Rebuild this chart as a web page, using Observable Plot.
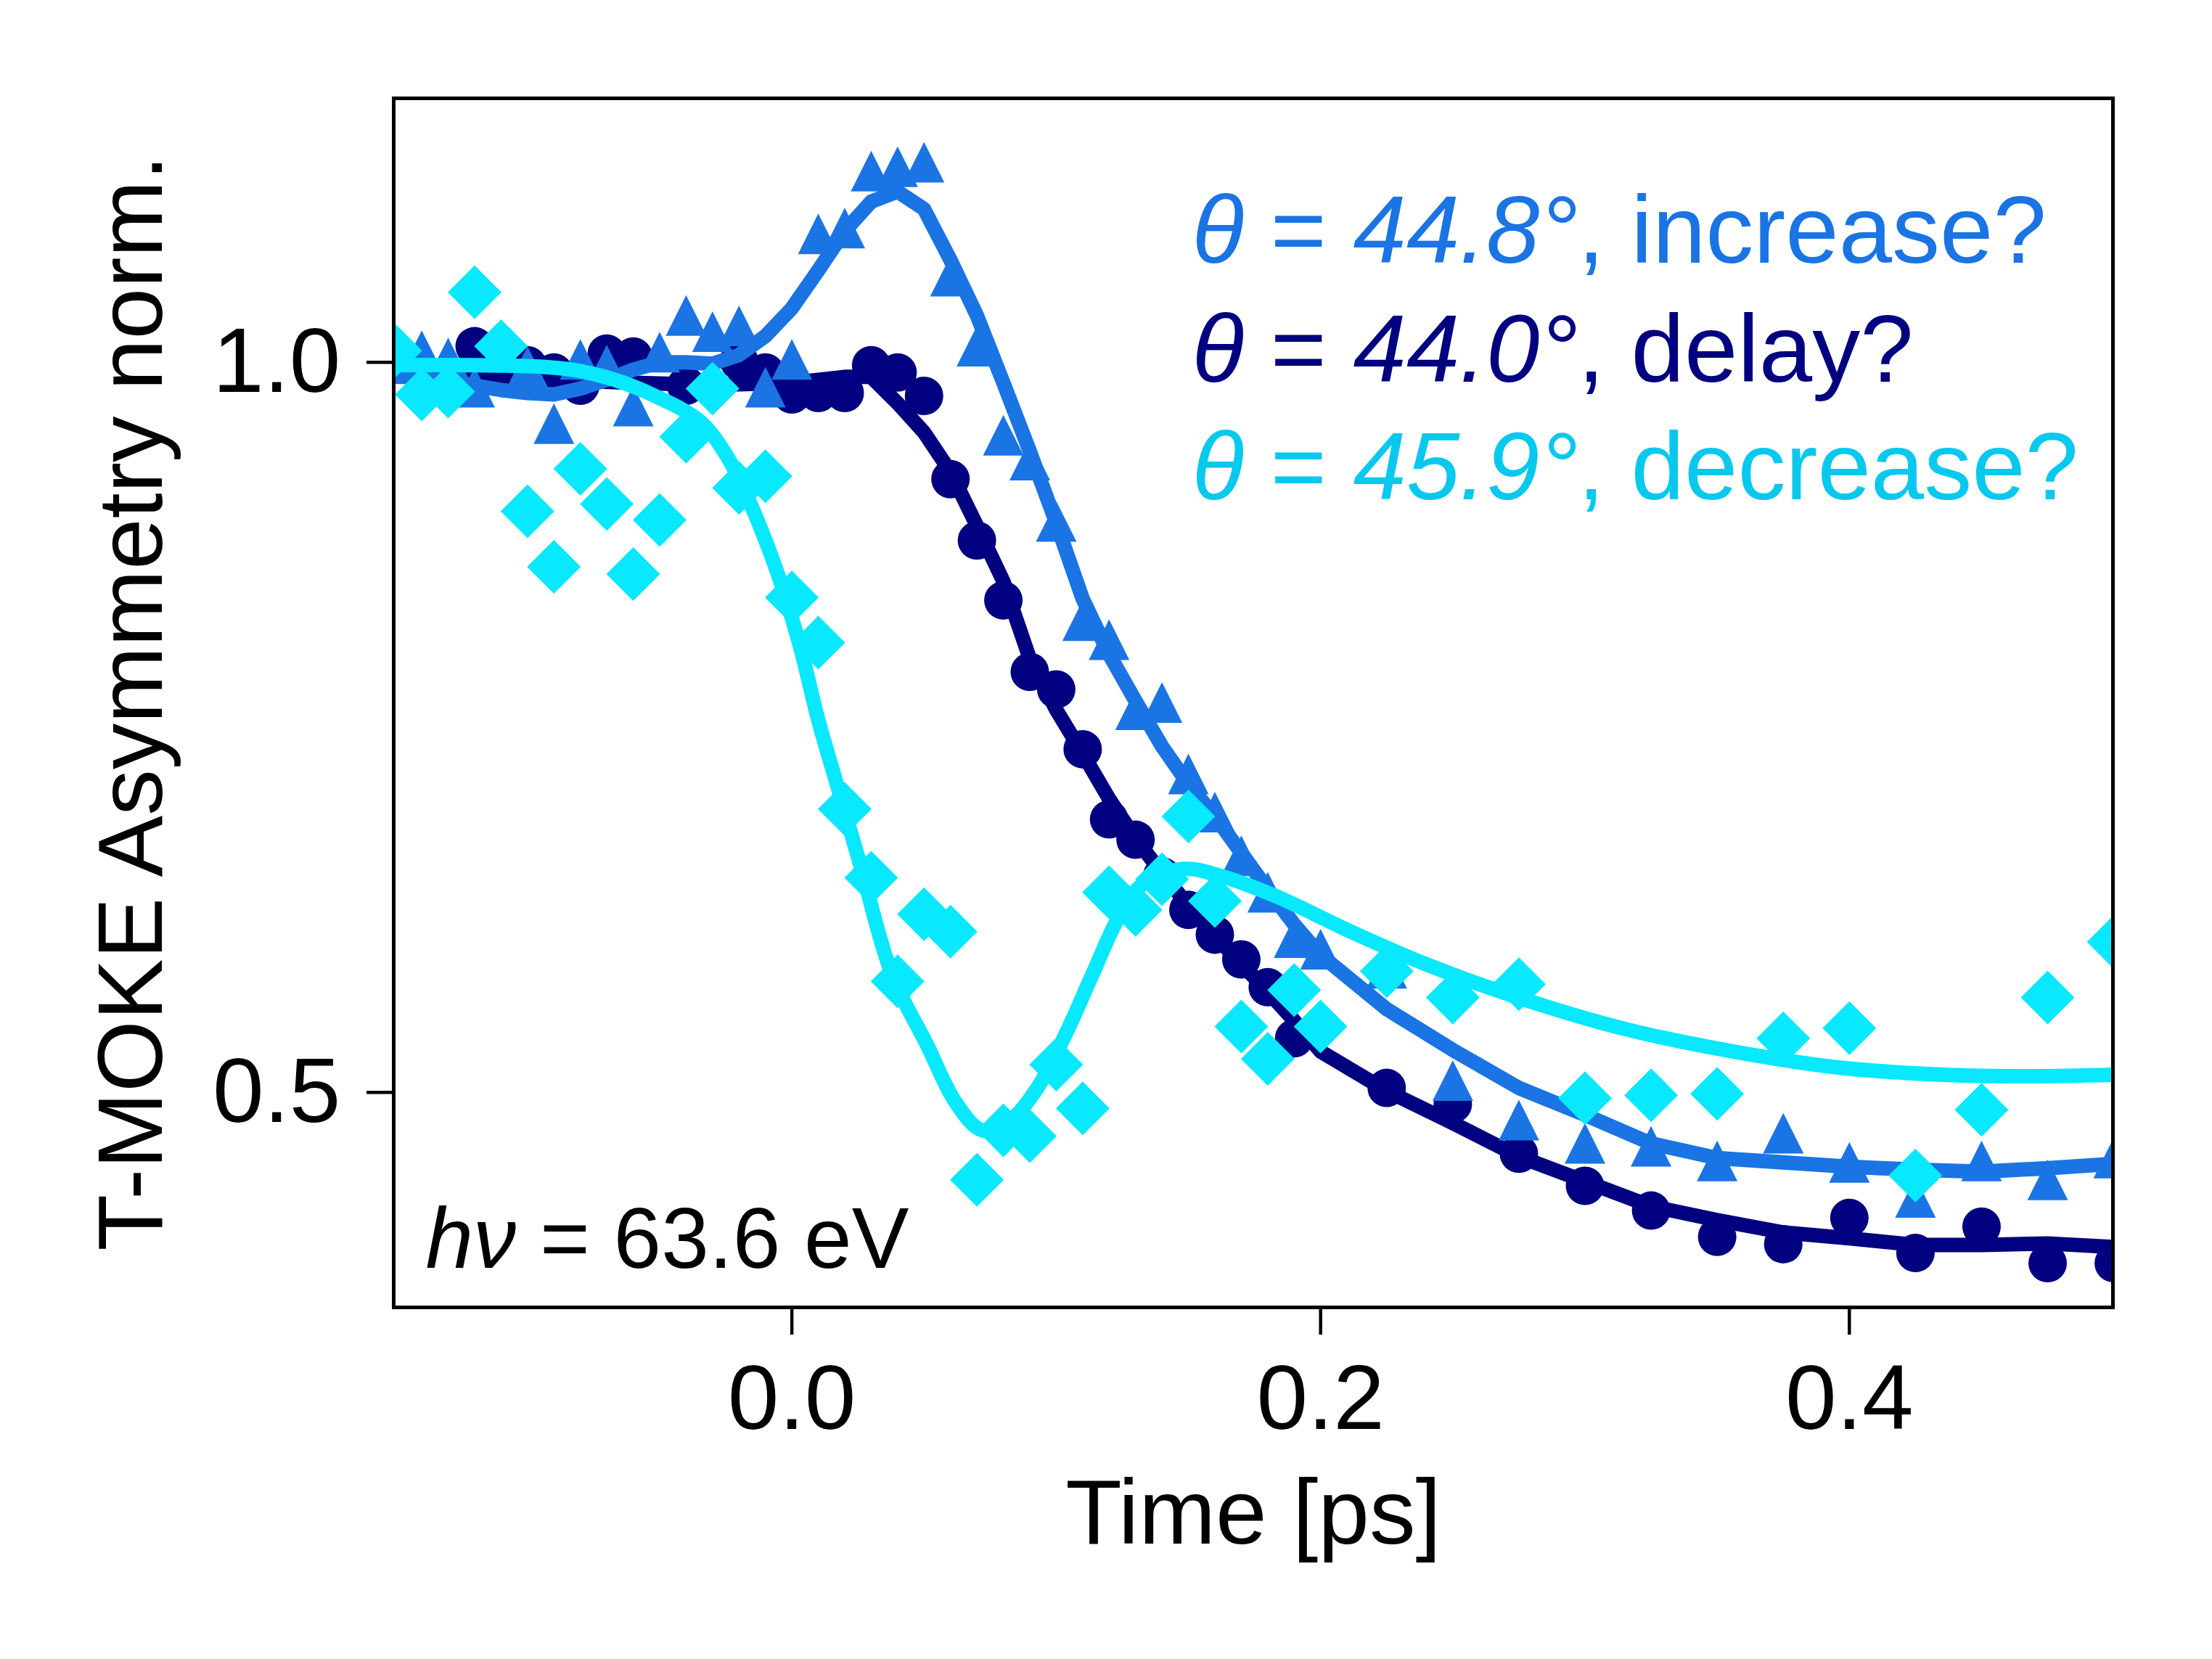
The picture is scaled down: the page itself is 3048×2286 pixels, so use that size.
<!DOCTYPE html>
<html><head><meta charset="utf-8">
<script src="https://cdn.jsdelivr.net/npm/d3@7"></script>
<script src="https://cdn.jsdelivr.net/npm/@observablehq/plot@0.6"></script>
<style>html,body{margin:0;padding:0;background:#fff;} #chart svg{display:block;}</style>
</head><body><div id="chart"></div>
<script>
// ---- data ----
const xTicks = [0.0, 0.2, 0.4];
const yTicks = [0.5, 1.0];
const xLabel = "Time [ps]";
const yLabel = "T-MOKE Asymmetry norm.";
const legendLabels = ["θ = 44.8°, increase?", "θ = 44.0°, delay?", "θ = 45.9°, decrease?"];
const annotation = "hν = 63.6 eV";

// θ = 44.0° (circles)
const navyT = [-0.12, -0.10, -0.09, -0.08, -0.07, -0.06, -0.04, -0.02, -0.01, 0.00, 0.01, 0.02, 0.03, 0.04, 0.05, 0.06, 0.07, 0.08, 0.09, 0.10, 0.11, 0.12, 0.13, 0.14, 0.15, 0.16, 0.17, 0.18, 0.19, 0.225, 0.25, 0.275, 0.30, 0.325, 0.35, 0.375, 0.40, 0.425, 0.45, 0.475, 0.50];
const navyA = [1.011, 0.998, 0.993, 0.984, 1.006, 1.004, 0.984, 1.001, 0.993, 0.978, 0.979, 0.979, 0.998, 0.993, 0.977, 0.920, 0.878, 0.837, 0.788, 0.776, 0.735, 0.687, 0.673, 0.648, 0.625, 0.608, 0.591, 0.572, 0.537, 0.503, 0.492, 0.458, 0.436, 0.419, 0.401, 0.396, 0.414, 0.390, 0.408, 0.383, 0.383];
const navyFitT = [-0.15, -0.12, -0.09, -0.06, -0.04, -0.02, 0.00, 0.01, 0.02, 0.03, 0.04, 0.05, 0.06, 0.07, 0.08, 0.09, 0.10, 0.11, 0.12, 0.13, 0.14, 0.15, 0.16, 0.17, 0.18, 0.19, 0.20, 0.225, 0.25, 0.275, 0.30, 0.325, 0.35, 0.375, 0.40, 0.425, 0.45, 0.475, 0.50];
const navyFitA = [0.992, 0.990, 0.988, 0.986, 0.985, 0.985, 0.986, 0.988, 0.990, 0.990, 0.972, 0.952, 0.925, 0.888, 0.850, 0.797, 0.762, 0.732, 0.701, 0.674, 0.650, 0.628, 0.607, 0.588, 0.569, 0.549, 0.528, 0.501, 0.479, 0.456, 0.439, 0.422, 0.4125, 0.404, 0.400, 0.3955, 0.3955, 0.3965, 0.394];

// θ = 44.8° (triangles)
const blueT = [-0.14, -0.13, -0.12, -0.10, -0.09, -0.08, -0.07, -0.06, -0.05, -0.04, -0.03, -0.02, -0.01, 0.00, 0.01, 0.02, 0.03, 0.04, 0.05, 0.06, 0.07, 0.08, 0.09, 0.10, 0.11, 0.12, 0.13, 0.14, 0.15, 0.16, 0.17, 0.18, 0.19, 0.20, 0.225, 0.25, 0.275, 0.30, 0.325, 0.35, 0.375, 0.40, 0.425, 0.45, 0.475, 0.50];
const blueA = [1.008, 1.003, 0.983, 0.997, 0.958, 1.002, 0.998, 0.970, 1.007, 1.032, 1.021, 1.025, 0.983, 1.002, 1.088, 1.092, 1.131, 1.134, 1.137, 1.059, 1.011, 0.950, 0.933, 0.891, 0.823, 0.810, 0.762, 0.767, 0.718, 0.692, 0.662, 0.637, 0.606, 0.598, 0.585, 0.508, 0.481, 0.465, 0.463, 0.453, 0.472, 0.452, 0.428, 0.453, 0.440, 0.455];
const blueFitT = [-0.15, -0.14, -0.13, -0.12, -0.11, -0.10, -0.09, -0.08, -0.07, -0.06, -0.05, -0.04, -0.03, -0.02, -0.01, 0.00, 0.01, 0.02, 0.03, 0.04, 0.05, 0.06, 0.07, 0.08, 0.09, 0.10, 0.11, 0.12, 0.13, 0.14, 0.15, 0.16, 0.17, 0.18, 0.19, 0.20, 0.225, 0.25, 0.275, 0.30, 0.325, 0.35, 0.375, 0.40, 0.425, 0.45, 0.475, 0.50];
const blueFitA = [0.990, 0.990, 0.988, 0.984, 0.981, 0.979, 0.978, 0.982, 0.988, 0.995, 1.000, 1.000, 0.999, 1.005, 1.018, 1.037, 1.063, 1.090, 1.110, 1.117, 1.105, 1.070, 1.032, 0.986, 0.939, 0.890, 0.838, 0.800, 0.768, 0.737, 0.711, 0.689, 0.664, 0.639, 0.615, 0.594, 0.557, 0.529, 0.503, 0.4845, 0.465, 0.455, 0.452, 0.449, 0.447, 0.4457, 0.448, 0.451];

// θ = 45.9° (diamonds)
const cyanT = [-0.15, -0.14, -0.13, -0.12, -0.11, -0.10, -0.09, -0.08, -0.07, -0.06, -0.05, -0.04, -0.03, -0.02, -0.01, 0.00, 0.01, 0.02, 0.03, 0.04, 0.05, 0.06, 0.07, 0.08, 0.09, 0.10, 0.11, 0.12, 0.13, 0.14, 0.15, 0.16, 0.17, 0.18, 0.19, 0.20, 0.225, 0.25, 0.275, 0.30, 0.325, 0.35, 0.375, 0.40, 0.425, 0.45, 0.475, 0.50];
const cyanA = [1.008, 0.978, 0.980, 1.048, 1.011, 0.898, 0.860, 0.927, 0.903, 0.855, 0.892, 0.949, 0.982, 0.914, 0.922, 0.839, 0.808, 0.694, 0.647, 0.576, 0.622, 0.610, 0.440, 0.474, 0.470, 0.519, 0.489, 0.637, 0.625, 0.646, 0.689, 0.631, 0.545, 0.523, 0.570, 0.545, 0.583, 0.565, 0.574, 0.496, 0.498, 0.499, 0.537, 0.544, 0.443, 0.488, 0.565, 0.603];
const cyanFitT = [-0.15, -0.12, -0.095, -0.08, -0.067, -0.053, -0.035, -0.025, -0.0166, -0.0055, 0.003, 0.010, 0.018, 0.026, 0.038, 0.051, 0.062, 0.072, 0.082, 0.0925, 0.1036, 0.1135, 0.1234, 0.133, 0.1485, 0.1625, 0.1835, 0.2115, 0.2395, 0.273, 0.316, 0.356, 0.396, 0.436, 0.469, 0.5];
const cyanFitA = [0.998, 0.998, 0.997, 0.994, 0.988, 0.978, 0.960, 0.937, 0.907, 0.856, 0.806, 0.755, 0.705, 0.655, 0.580, 0.533, 0.493, 0.474, 0.480, 0.502, 0.540, 0.580, 0.619, 0.643, 0.653, 0.648, 0.634, 0.610, 0.588, 0.566, 0.543, 0.528, 0.517, 0.512, 0.511, 0.512];

// ---- styles ----
const NAVY = "#000080", BLUE = "#1a74e4", CYAN = "#08e8fe", CYAN_TEXT = "#08c8ee";
const FONT = "'Liberation Sans', Arial, Helvetica, sans-serif";

const zip = (T, A) => T.map((t, i) => ({t, a: A[i]}));
const radiusOf = (size) => Math.sqrt(size / Math.PI);
const circleSym = {draw(c, size) { const r = radiusOf(size); c.moveTo(r, 0); c.arc(0, 0, r, 0, 2 * Math.PI); c.closePath(); }};
const triangleSym = {draw(c, size) { const s = radiusOf(size); c.moveTo(0, -s); c.lineTo(s, s); c.lineTo(-s, s); c.closePath(); }};
const diamondSym = {draw(c, size) { const s = radiusOf(size); c.moveTo(0, -s); c.lineTo(s, 0); c.lineTo(0, s); c.lineTo(-s, 0); c.closePath(); }};

const LW = 20;
const svg = Plot.plot({
  width: 3048, height: 2286,
  marginLeft: 542, marginRight: 137, marginTop: 135, marginBottom: 485,
  style: {fontFamily: FONT, background: "white", color: "black"},
  x: {domain: [-0.1506, 0.4997], label: null},
  y: {domain: [0.3527, 1.1808], label: null},
  marks: [
    Plot.line(zip(navyFitT, navyFitA), {x: "t", y: "a", stroke: NAVY, strokeWidth: LW, clip: true}),
    Plot.dot(zip(navyT, navyA), {x: "t", y: "a", r: 26.5, symbol: circleSym, fill: NAVY, stroke: "none", clip: true}),
    Plot.line(zip(blueFitT, blueFitA), {x: "t", y: "a", stroke: BLUE, strokeWidth: LW, clip: true}),
    Plot.dot(zip(blueT, blueA), {x: "t", y: "a", r: 28, symbol: triangleSym, fill: BLUE, stroke: "none", clip: true}),
    Plot.dot(zip(cyanT, cyanA), {x: "t", y: "a", r: 37, symbol: diamondSym, fill: CYAN, stroke: "none", clip: true}),
    Plot.line(zip(cyanFitT, cyanFitA), {x: "t", y: "a", stroke: CYAN, strokeWidth: LW, curve: "catmull-rom", clip: true}),
    Plot.axisX({ticks: xTicks, tickFormat: d => d.toFixed(1), tickSize: 38, tickPadding: 39, strokeWidth: 4.5, fontSize: 127, label: null}),
    Plot.axisY({ticks: yTicks, tickFormat: d => d.toFixed(1), tickSize: 37, tickPadding: 36, strokeWidth: 4.5, fontSize: 127, label: null}),
    Plot.text([xLabel], {text: d => d, frameAnchor: "bottom", textAnchor: "middle", dy: 325, lineAnchor: "bottom", fontSize: 127, fill: "black"}),
    Plot.text([yLabel], {text: d => d, frameAnchor: "left", textAnchor: "middle", rotate: -90, dx: -320, lineAnchor: "bottom", fontSize: 127, fill: "black"}),
    Plot.text([legendLabels[0]], {text: d => d, frameAnchor: "top-left", textAnchor: "start", lineAnchor: "bottom", dx: 1100, dy: 226, fontSize: 132, fill: BLUE}),
    Plot.text([legendLabels[1]], {text: d => d, frameAnchor: "top-left", textAnchor: "start", lineAnchor: "bottom", dx: 1100, dy: 390, fontSize: 132, fill: NAVY}),
    Plot.text([legendLabels[2]], {text: d => d, frameAnchor: "top-left", textAnchor: "start", lineAnchor: "bottom", dx: 1100, dy: 552, fontSize: 132, fill: CYAN_TEXT}),
    Plot.text([annotation], {text: d => d, frameAnchor: "bottom-left", textAnchor: "start", lineAnchor: "bottom", dx: 44, dy: -55, fontSize: 118, fill: "black"}),
    Plot.frame({stroke: "black", strokeWidth: 5})
  ]
});

// italic parts (math style) in legend and annotation
d3.select(svg).selectAll("text").each(function () {
  const s = this.textContent;
  let parts = null;
  let m = s.match(/^(θ)( = )([0-9.]+°)(, .+)$/);
  if (m) parts = [[m[1], true], [m[2], false], [m[3], true], [m[4], false]];
  m = s.match(/^(hν)( = .+)$/);
  if (m) parts = [[m[1], true], [m[2], false]];
  if (!parts) return;
  const el = d3.select(this);
  el.text(null);
  for (const [t, it] of parts) {
    el.append("tspan").attr("font-style", it ? "italic" : "normal").text(t);
  }
});

document.getElementById("chart").append(svg);
</script>
</body></html>
